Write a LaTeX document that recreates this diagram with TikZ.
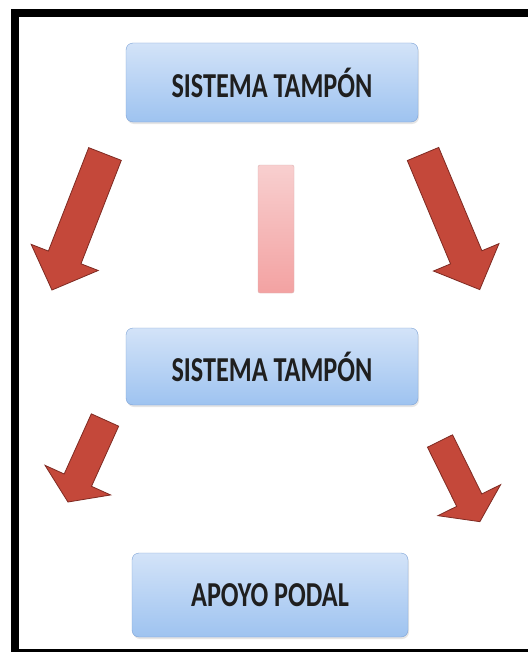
\documentclass[tikz,border=0pt]{standalone}
\usepackage{fontspec}
\newfontfamily\boxfont[FakeStretch=0.75]{Carlito}
\usetikzlibrary{positioning,shadows}

\definecolor{boxtop}{HTML}{D3E3F8}
\definecolor{boxbot}{HTML}{9EC3F0}
\definecolor{boxline}{HTML}{7DA2D6}
\definecolor{bartop}{HTML}{F8CFCF}
\definecolor{barbot}{HTML}{F3A2A2}
\definecolor{arrfill}{HTML}{C4483A}
\definecolor{arrline}{HTML}{7E2A22}

% block arrow: x, y, angle, length, shaft width, head width, head length
\newcommand\redarrow[7]{%
\draw[bigarrow,shift={(#1,#2)},rotate=#3]
 (0,-#5/2) -- (#4-#7,-#5/2) -- (#4-#7,-#6/2) -- (#4,0)
 -- (#4-#7,#6/2) -- (#4-#7,#5/2) -- (0,#5/2) -- cycle;}

\begin{document}
\begin{tikzpicture}[x=1pt,y=-1pt,
  box/.style={draw=boxline,rounded corners=7pt,top color=boxtop,bottom color=boxbot,
    drop shadow={opacity=0.2,shadow xshift=1pt,shadow yshift=-2pt},
    font=\boxfont\bfseries\fontsize{35}{38}\selectfont,text=black!88},
  bigarrow/.style={fill=arrfill,draw=arrline,line width=0.8pt,line join=miter}]

\useasboundingbox (0,0) rectangle (528,661);
\fill[white] (0,0) rectangle (528,661);

% frame
\fill[black] (11,9) rectangle (19,652);
\fill[black] (11,9) rectangle (528,17);
\fill[black] (11,649) rectangle (528,652);

\node[box,minimum width=292pt,minimum height=79pt] (top) at (272,82.5) {SISTEMA TAMPÓN};
\node[box,minimum width=292pt,minimum height=77pt] (mid) at (272,366.5) {SISTEMA TAMPÓN};
\node[box,minimum width=276pt,minimum height=84pt] (foot) at (270,595) {APOYO PODAL};

\draw[draw=barbot!80!black!60,rounded corners=2pt,top color=bartop,bottom color=barbot]
 (258,165) rectangle (294,293);

\redarrow{105}{154}{-111.3}{146}{35}{72}{35}
\redarrow{423}{154}{-67.3}{147}{34}{71}{35}
\redarrow{105}{420}{-114.3}{90}{30}{72}{24}
\redarrow{440}{441}{-63.7}{90}{28}{70}{24}
\end{tikzpicture}
\end{document}
